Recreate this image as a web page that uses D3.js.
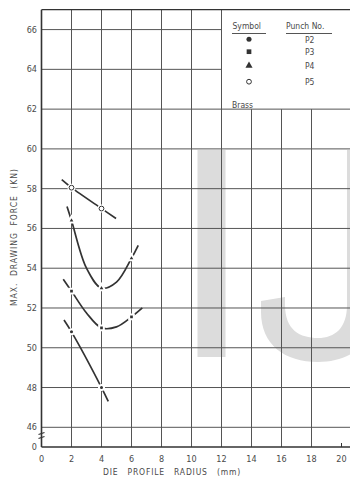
<!DOCTYPE html>
<html>
<head>
<meta charset="utf-8">
<script src="https://cdn.jsdelivr.net/npm/d3@7"></script>
<style>
  body { margin: 0; background: #fff; }
  svg text { font-family: "DejaVu Sans Condensed", "DejaVu Sans", sans-serif; fill: #4a4a4a; }
</style>
</head>
<body>
<script>
// Data
var xTicks = [0, 2, 4, 6, 8, 10, 12, 14, 16, 18, 20];
var yTicks = [46, 48, 50, 52, 54, 56, 58, 60, 62, 64, 66];
var punchNames = ["P2", "P3", "P4", "P5"];

// measured points (die profile radius, max drawing force)
var p2Points = [[2, 50.8], [4, 48.0]];
var p3Points = [[2, 52.85], [4, 51.0], [6, 51.55]];
var p4Points = [[2, 56.4], [4, 53.0], [6, 54.5]];
var p5Points = [[2, 58.05], [4, 57.0]];

// fitted curves as drawn in the picture
var p2Curve = [[1.5, 51.4], [2, 50.8], [4, 48.0], [4.45, 47.3]];
var p3Curve = [[1.45, 53.45], [2, 52.85], [3, 51.75], [4, 51.0], [5, 51.05], [6, 51.55], [6.72, 52.0]];
var p4Curve = [[1.7, 57.1], [2, 56.4], [3, 54.0], [4, 53.0], [5, 53.3], [6, 54.5], [6.45, 55.15]];
var p5Curve = [[1.35, 58.45], [2, 58.05], [4, 57.0], [4.97, 56.5]];

var width = 350, height = 479;
var zeroY = 447; // the broken-axis "0" level

var svg = d3.select("body").append("svg")
    .attr("width", width)
    .attr("height", height);

var x = d3.scaleLinear().domain([0, 20]).range([41.5, 341.5]);
var y = d3.scaleLinear().domain([46, 67]).range([427.3, 9.7]);

// watermark letters behind the grid
var wm = svg.append("g").attr("fill", "#dcdcdc");
wm.append("rect").attr("x", 197.5).attr("y", 150).attr("width", 28).attr("height", 207);
wm.append("path")
    .attr("d", "M261,301 L285,297 L285,305 C285,330 300,338 318,338 C335,338 347,328 347,305 " +
               "L347,150 L375,150 L375,305 C375,345 350,362 318,362 C285,362 261,345 261,312 Z");

// grid
var grid = svg.append("g").attr("stroke", "#555").attr("stroke-width", 1);
grid.selectAll("line.h")
    .data(yTicks)
    .enter()
    .append("line")
        .attr("x1", x(0))
        .attr("x2", function(d) { return d > 62 ? x(12) : width; })
        .attr("y1", function(d) { return y(d); })
        .attr("y2", function(d) { return y(d); });

grid.selectAll("line.v")
    .data(xTicks.filter(function(d) { return d > 0 && d < 20; }))
    .enter()
    .append("line")
        .attr("x1", function(d) { return x(d); })
        .attr("x2", function(d) { return x(d); })
        .attr("y1", zeroY)
        .attr("y2", function(d) { return d > 12 ? y(62) : y(67); });

// frame: left axis, bottom axis, top border
var frame = svg.append("g").attr("stroke", "#333").attr("stroke-width", 1.6).attr("fill", "none");
frame.append("line").attr("x1", x(0)).attr("x2", x(0)).attr("y1", y(67)).attr("y2", zeroY);
frame.append("line").attr("x1", x(0)).attr("x2", width).attr("y1", zeroY).attr("y2", zeroY);
frame.append("line").attr("x1", x(0)).attr("x2", width).attr("y1", y(67)).attr("y2", y(67))
    .attr("stroke-width", 1.2);
frame.append("line").attr("x1", x(20)).attr("x2", x(20)).attr("y1", zeroY).attr("y2", zeroY - 4)
    .attr("stroke-width", 1);

// axis break marks
var breakG = svg.append("g").attr("stroke", "#333").attr("stroke-width", 1.2).attr("fill", "none");
breakG.append("path").attr("d", "M" + (x(0) - 3) + ",434.5 L" + (x(0) + 3) + ",432.5");
breakG.append("path").attr("d", "M" + (x(0) - 3) + ",438.5 L" + (x(0) + 3) + ",436.5");

// tick labels
svg.append("g").selectAll("text")
    .data(yTicks)
    .enter()
    .append("text")
        .attr("x", 37)
        .attr("y", function(d) { return y(d) + 3; })
        .attr("text-anchor", "end")
        .attr("font-size", 9)
        .text(function(d) { return d; });
svg.append("text")
    .attr("x", 37).attr("y", zeroY + 3)
    .attr("text-anchor", "end").attr("font-size", 9)
    .text("0");

svg.append("g").selectAll("text")
    .data(xTicks)
    .enter()
    .append("text")
        .attr("x", function(d) { return x(d); })
        .attr("y", 462)
        .attr("text-anchor", "middle")
        .attr("font-size", 9)
        .text(function(d) { return d; });

// axis titles
svg.append("text")
    .attr("transform", "translate(17,237) rotate(-90)")
    .attr("text-anchor", "middle")
    .attr("font-size", 8.5)
    .attr("letter-spacing", 1)
    .attr("word-spacing", 3)
    .text("MAX. DRAWING FORCE (KN)");

svg.append("text")
    .attr("x", 172).attr("y", 475)
    .attr("text-anchor", "middle")
    .attr("font-size", 8.5)
    .attr("letter-spacing", 0.8)
    .attr("word-spacing", 6)
    .text("DIE PROFILE RADIUS (mm)");

// curves
var line = d3.line()
    .x(function(d) { return x(d[0]); })
    .y(function(d) { return y(d[1]); })
    .curve(d3.curveCatmullRom);

var curves = [p2Curve, p3Curve, p4Curve, p5Curve];
svg.append("g").selectAll("path")
    .data(curves)
    .enter()
    .append("path")
        .attr("d", line)
        .attr("fill", "none")
        .attr("stroke", "#333")
        .attr("stroke-width", 1.7);

// markers
var symbols = [d3.symbolCircle, d3.symbolSquare, d3.symbolTriangle, d3.symbolCircle];
var symSize = [20, 22, 22, 18];
var symFill = ["#333", "#333", "#333", "#fff"];
var allPoints = [p2Points, p3Points, p4Points, p5Points];

function drawMarker(g, i, px, py, halo) {
    g.append("path")
        .attr("d", d3.symbol().type(symbols[i]).size(symSize[i])())
        .attr("transform", "translate(" + px + "," + py + ")")
        .attr("fill", symFill[i])
        .attr("stroke", i == 3 ? "#333" : (halo ? "#fff" : "none"))
        .attr("stroke-width", i == 3 ? 1 : 2);
}

var markG = svg.append("g");
allPoints.forEach(function(pts, i) {
    pts.forEach(function(p) {
        if (i == 3) {
            markG.append("circle").attr("cx", x(p[0])).attr("cy", y(p[1])).attr("r", 4)
                .attr("fill", "#fff");
        }
        drawMarker(markG, i, x(p[0]), y(p[1]), true);
    });
});

// legend
var legend = svg.append("g");
legend.append("text").attr("x", 232.5).attr("y", 29).attr("font-size", 8.5).text("Symbol");
legend.append("text").attr("x", 286).attr("y", 29).attr("font-size", 8.5).text("Punch No.");
legend.append("line").attr("x1", 232).attr("x2", 266).attr("y1", 33.5).attr("y2", 33.5)
    .attr("stroke", "#555").attr("stroke-width", 1);
legend.append("line").attr("x1", 286).attr("x2", 332).attr("y1", 33.5).attr("y2", 33.5)
    .attr("stroke", "#555").attr("stroke-width", 1);

var legendY = [39.3, 51.7, 65.7, 81.7];
punchNames.forEach(function(name, i) {
    drawMarker(legend, i, 249, legendY[i], false);
    legend.append("text")
        .attr("x", 305).attr("y", legendY[i] + 3.2)
        .attr("font-size", 8.5)
        .text(name);
});
legend.append("text").attr("x", 232).attr("y", 107.5).attr("font-size", 8.5).text("Brass");
</script>
</body>
</html>
